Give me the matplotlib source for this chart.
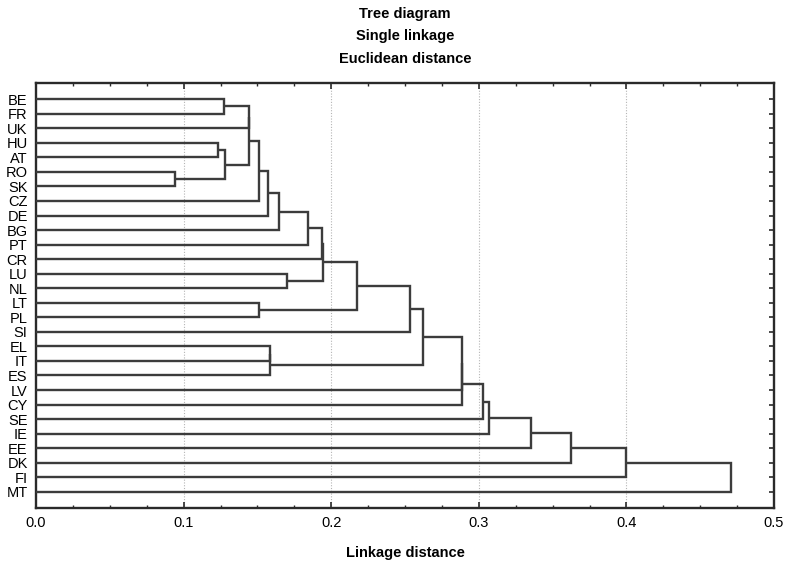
import matplotlib
matplotlib.use("Agg")
import matplotlib.pyplot as plt
from matplotlib.ticker import MultipleLocator

plt.rcParams['font.family'] = ['Liberation Sans', 'DejaVu Sans']

# Leaf order (top to bottom)
leaves = ["BE", "FR", "UK", "HU", "AT", "RO", "SK", "CZ", "DE", "BG", "PT", "CR",
          "LU", "NL", "LT", "PL", "SI", "EL", "IT", "ES", "LV", "CY", "SE", "IE",
          "EE", "DK", "FI", "MT"]

# Merges: (left, right, linkage distance); ints refer to earlier merges
merge_left = ["BE", "HU", "RO", 1, 0, 4, 5, 6, 7, 8, 9, "LU", 10, "LT", 12, 14,
              "EL", 16, 15, 18, 19, 20, 21, 22, 23, 24, 25]
merge_right = ["FR", "AT", "SK", 2, "UK", 3, "CZ", "DE", "BG", "PT", "CR", "NL", 11,
               "PL", 13, "SI", "IT", "ES", 17, "LV", "CY", "SE", "IE", "EE", "DK",
               "FI", "MT"]
merge_height = [0.1276, 0.1231, 0.0939, 0.1283, 0.1442, 0.1443, 0.1511, 0.1574,
                0.1644, 0.1843, 0.1935, 0.1698, 0.1944, 0.1513, 0.2178, 0.2536,
                0.1587, 0.1588, 0.2622, 0.2886, 0.2887, 0.3026, 0.3072, 0.3355,
                0.3624, 0.4000, 0.4710]

W, H = 789, 562
fig = plt.figure(figsize=(W / 100, H / 100), dpi=100)
left, right, top, bottom = 36, 774, 83, 508
ax = fig.add_axes([left / W, 1 - bottom / H, (right - left) / W, (bottom - top) / H])

line_color = '#3c3c3c'
pos = {name: (i, 0.0) for i, name in enumerate(leaves)}
nodes = []
for a, b, h in zip(merge_left, merge_right, merge_height):
    ya, ha = nodes[a] if isinstance(a, int) else pos[a]
    yb, hb = nodes[b] if isinstance(b, int) else pos[b]
    ax.plot([ha, h, h, hb], [ya, ya, yb, yb], color=line_color, lw=1.7,
            solid_joinstyle='miter', solid_capstyle='butt', zorder=3)
    nodes.append(((ya + yb) / 2, h))

m = 1.115
ax.set_ylim(len(leaves) - 1 + m, -m)
ax.set_xlim(0, 0.5)

ax.set_yticks(range(len(leaves)))
ax.set_yticklabels(leaves, fontsize=10.5)
ax.set_xticks([0.0, 0.1, 0.2, 0.3, 0.4, 0.5])
ax.set_xticklabels(["0.0", "0.1", "0.2", "0.3", "0.4", "0.5"], fontsize=10.5)
ax.xaxis.set_minor_locator(MultipleLocator(0.025))

ax.tick_params(axis='x', which='major', direction='in', length=4, width=1.2,
               top=True, bottom=True, pad=6, color='#2a2a2a')
ax.tick_params(axis='x', which='minor', direction='in', length=2.5, width=1.0,
               top=True, bottom=True, color='#2a2a2a')
ax.tick_params(axis='y', which='major', direction='in', length=3.5, width=1.2,
               left=False, right=True, pad=6, color='#2a2a2a')

for s in ax.spines.values():
    s.set_linewidth(1.7)
    s.set_color('#2a2a2a')

for xv in [0.1, 0.2, 0.3, 0.4]:
    ax.axvline(xv, color='#b5b5b5', lw=0.8, linestyle=(0, (1, 1.5)), zorder=1)

for txt, yp in [("Tree diagram", 14), ("Single linkage", 36), ("Euclidean distance", 59)]:
    fig.text((left + right) / 2 / W, 1 - yp / H, txt, ha='center', va='center',
             fontsize=10.5, fontweight='bold')

fig.text((left + right) / 2 / W, 1 - 553 / H, "Linkage distance", ha='center',
         va='center', fontsize=10.5, fontweight='bold')

fig.savefig("out.png", dpi=100)
